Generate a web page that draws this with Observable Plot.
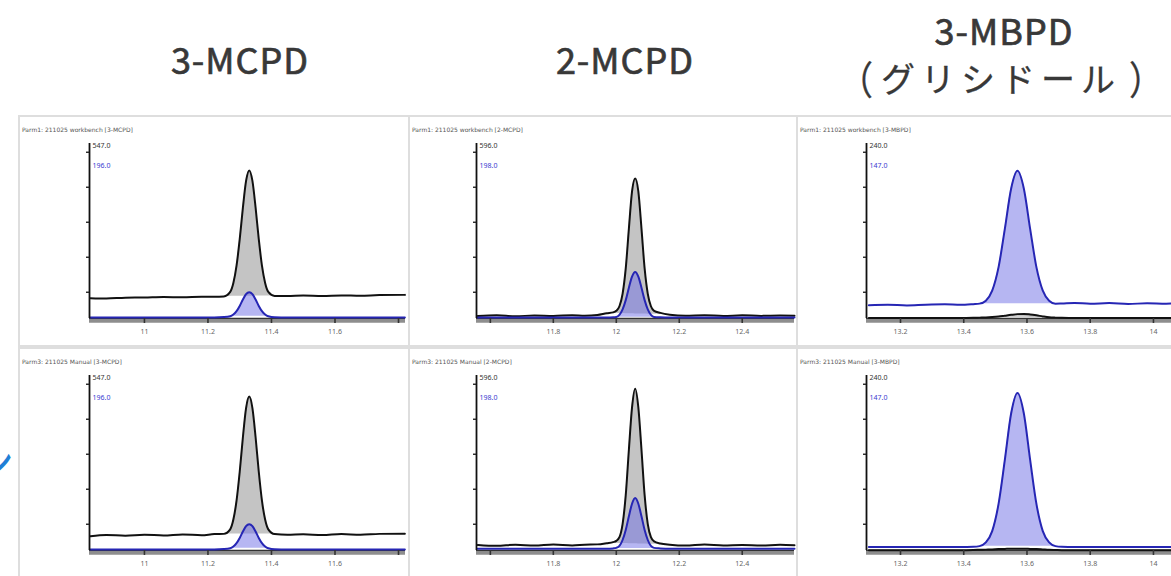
<!DOCTYPE html>
<html><head><meta charset="utf-8">
<script src="https://cdn.jsdelivr.net/npm/d3@7"></script>
<script src="https://cdn.jsdelivr.net/npm/@observablehq/plot@0.6"></script>
<style>
body{margin:0;width:1171px;height:576px;overflow:hidden;background:#fff;position:relative;font-family:"Noto Sans CJK JP","Noto Sans",sans-serif;}
.title{position:absolute;color:#383838;font-size:36px;font-weight:400;-webkit-text-stroke:0.7px #383838;letter-spacing:1px;text-align:center;transform:translateX(-50%);white-space:nowrap;line-height:1}
.panel{position:absolute;box-sizing:border-box;background:#fff;border:2px solid #dedede;}
.hdr{position:absolute;font:6px "DejaVu Sans",sans-serif;color:#555;white-space:nowrap}
.chart{position:absolute}
.edge{position:absolute;color:#1f7fd6;font-size:44px;line-height:1}
</style></head><body>
<script>
// ---- text ----
const columnTitles = ["3-MCPD", "2-MCPD", "3-MBPD"];
const columnSubtitle = ["（", "グリシドール", "）"];
const headerTexts = [
  ["Parm1: 211025 workbench [3-MCPD]", "Parm1: 211025 workbench [2-MCPD]", "Parm1: 211025 workbench [3-MBPD]"],
  ["Parm3: 211025 Manual [3-MCPD]", "Parm3: 211025 Manual [2-MCPD]", "Parm3: 211025 Manual [3-MBPD]"]
];
const blackScaleLabels = ["547.0", "596.0", "240.0"];
const blueScaleLabels = ["196.0", "198.0", "147.0"];

// ---- axes ----
const xDomains = [[10.827, 11.822], [11.556, 12.566], [13.0925, 14.095]];
const xTicks = [[11, 11.2, 11.4, 11.6, 11.8], [11.6, 11.8, 12, 12.2, 12.4], [13.2, 13.4, 13.6, 13.8, 14]];
const xTickLabels = [["11", "11.2", "11.4", "11.6", ""], ["", "11.8", "12", "12.2", "12.4"], ["13.2", "13.4", "13.6", "13.8", "14"]];
const yTicks = [15, 35, 55, 75, 95];
const blackFillRanges = [[11.25, 11.41], [11.97, 12.17], [13.49, 13.69]];
const blueFillRanges = [[11.27, 11.39], [11.99, 12.14], [13.45, 13.69]];

// ---- 3-MCPD (retention time, min; intensity, % of axis) ----
const t1 = [10.83,10.88,10.94,11.0,11.06,11.12,11.18,11.22,11.25,11.27,11.28,11.29,11.30,11.31,11.32,11.33,11.34,11.35,11.36,11.37,11.38,11.39,11.41,11.45,11.5,11.56,11.62,11.68,11.74,11.82];
const black1Workbench = [11.6,11.4,11.9,12.0,12.3,12.1,12.5,12.4,12.6,15.2,20.3,30.2,45.3,63.3,78.6,84.6,78.6,63.3,45.3,30.2,20.3,15.2,12.9,12.8,13.1,12.9,13.2,13.0,13.4,13.5];
const blue1Workbench = [0.6,0.6,0.6,0.6,0.6,0.6,0.6,0.6,0.8,1.3,2.3,4.2,7.2,10.8,13.9,15.0,13.9,10.8,7.2,4.2,2.3,1.3,0.7,0.6,0.6,0.6,0.6,0.6,0.6,0.6];
const black1Manual = [8.2,8.9,8.5,9.0,8.6,9.2,8.7,9.4,9.5,12.1,17.7,28.5,45.0,64.7,81.4,88.0,81.4,64.7,45.0,28.5,17.7,12.1,9.4,9.0,9.3,8.8,9.4,9.0,9.5,9.6];
const blue1Manual = [0.6,0.6,0.6,0.6,0.6,0.6,0.6,0.6,0.8,1.3,2.3,4.2,7.2,10.8,13.9,15.0,13.9,10.8,7.2,4.2,2.3,1.3,0.7,0.6,0.6,0.6,0.6,0.6,0.6,0.6];

// ---- 2-MCPD ----
const t2 = [11.56,11.62,11.68,11.74,11.8,11.86,11.9,11.94,11.97,11.99,12.0,12.01,12.02,12.03,12.04,12.05,12.06,12.07,12.08,12.09,12.10,12.11,12.12,12.14,12.17,12.22,12.28,12.34,12.4,12.46,12.52,12.566];
const black2Workbench = [1.4,1.8,1.3,1.7,1.5,1.9,1.6,2.0,3.0,3.5,4.4,7.0,14.1,28.6,51.4,72.6,80.0,72.6,51.4,28.6,14.1,7.0,4.4,3.2,2.2,1.6,1.9,1.4,1.8,1.5,1.7,1.6];
const blue2Workbench = [0.6,0.6,0.6,0.6,0.6,0.6,0.6,0.6,0.6,0.7,0.9,2.1,5.2,10.5,17.6,23.9,26.6,23.9,17.6,10.5,5.2,2.1,0.9,0.7,0.6,0.6,0.6,0.6,0.6,0.6,0.6,0.6];
const black2Manual = [3.2,2.7,3.3,2.8,3.4,2.9,3.3,3.5,4.2,4.8,5.5,7.6,15.1,31.6,57.6,81.8,92.5,81.8,57.6,31.6,15.1,7.6,5.2,4.0,3.3,2.8,3.4,2.9,3.2,2.8,3.3,3.0];
const blue2Manual = [1.0,1.0,1.0,1.0,1.0,1.0,1.0,1.0,1.0,1.2,1.5,2.6,6.0,11.7,19.6,26.7,30.0,26.7,19.6,11.7,6.0,2.6,1.5,1.2,1.0,1.0,1.0,1.0,1.0,1.0,1.0,1.0];

// ---- 3-MBPD ----
const t3 = [13.1,13.16,13.22,13.28,13.34,13.39,13.43,13.45,13.47,13.49,13.51,13.53,13.55,13.57,13.59,13.61,13.63,13.65,13.67,13.69,13.71,13.75,13.8,13.86,13.92,13.98,14.04,14.095];
const black3Workbench = [0.3,0.3,0.3,0.3,0.3,0.3,0.4,0.5,0.6,0.8,1.1,1.6,2.1,2.5,2.6,2.3,1.8,1.2,0.7,0.5,0.4,0.3,0.3,0.3,0.3,0.3,0.3,0.3];
const blue3Workbench = [7.6,7.8,7.5,7.9,8.1,7.8,8.2,8.5,10.2,15.9,29.2,51.2,74.3,84.4,74.3,51.2,29.2,15.9,10.2,8.5,8.6,8.9,8.4,8.8,8.3,8.7,8.5,8.8];
const black3Manual = [0.2,0.2,0.2,0.2,0.2,0.2,0.3,0.4,0.5,0.6,0.8,0.9,1.0,1.0,1.0,0.9,0.8,0.6,0.4,0.3,0.2,0.2,0.2,0.2,0.2,0.2,0.2,0.2];
const blue3Manual = [2.0,2.0,2.0,2.0,2.0,2.0,2.1,2.5,4.6,11.1,26.5,51.8,78.4,90.0,78.4,51.8,26.5,11.1,4.6,2.5,2.1,2.0,2.0,2.0,2.0,2.0,2.0,2.0];

const times = [t1, t2, t3];
const blackSeries = [[black1Workbench, black2Workbench, black3Workbench], [black1Manual, black2Manual, black3Manual]];
const blueSeries = [[blue1Workbench, blue2Workbench, blue3Workbench], [blue1Manual, blue2Manual, blue3Manual]];

// ---- layout ----
const colLeft = [20, 410, 798];
const colWidth = [388, 387, 388];
const colMarginLeft = [69, 66, 68];
const rowTop = [117, 349];
const panelH = 228;

function el(cls, css, txt) {
  const d = document.createElement("div");
  d.className = cls; Object.assign(d.style, css);
  if (txt != null) d.textContent = txt;
  document.body.appendChild(d); return d;
}

el("title", {left: "240px", top: "40px"}, columnTitles[0]);
el("title", {left: "625px", top: "40px"}, columnTitles[1]);
el("title", {left: "1004px", top: "11px"}, columnTitles[2]);
const sub = el("title", {left: "1001px", top: "61px", fontSize: "34px", letterSpacing: "0", webkitTextStroke: "0.3px #383838"});
columnSubtitle.forEach((s, i) => {
  const sp = document.createElement("span");
  sp.textContent = s;
  if (i !== 1) { sp.style.display = "inline-block"; sp.style.width = "42px"; sp.style.textAlign = i === 0 ? "left" : "right"; sp.style.transform = "scaleY(1.15)"; }
  else { sp.style.letterSpacing = "6px"; }
  sub.appendChild(sp);
});
el("edge", {left: "-30px", top: "438px"}, "ン");

function integrate(rows, key, range) {
  const sel = rows.filter(r => r.t >= range[0] && r.t <= range[1]);
  const a = sel[0], z = sel[sel.length - 1];
  return sel.map(r => ({t: r.t, v: r[key], base: a[key] + (z[key] - a[key]) * (r.t - a.t) / (z.t - a.t)}));
}

for (let r = 0; r < 2; r++) {
  for (let c = 0; c < 3; c++) {
    const L = colLeft[c], T = rowTop[r], W = colWidth[c];
    el("panel", {left: (L - 2) + "px", top: (T - 2) + "px", width: (W + 4) + "px", height: (panelH + 4) + "px"});
    const rows = times[c].map((t, i) => ({t, k: blackSeries[r][c][i], b: blueSeries[r][c][i]}));
    const kFill = integrate(rows, "k", blackFillRanges[c]);
    const bFill = integrate(rows, "b", blueFillRanges[c]);
    const dom = xDomains[c], ticks = xTicks[c], labels = xTickLabels[c];
    const svg = Plot.plot({
      width: W, height: panelH,
      marginLeft: colMarginLeft[c], marginRight: 3, marginTop: 26, marginBottom: 27,
      x: {domain: dom, label: null}, y: {domain: [0, 100], label: null},
      style: {background: "transparent", overflow: "visible"},
      marks: [
        Plot.areaY(kFill, {x: "t", y1: "base", y2: "v", fill: "#c4c4c4", curve: "monotone-x"}),
        Plot.ruleY([0], {stroke: "#8e8e8e", strokeWidth: 3.5, dy: 2.5}),
        Plot.ruleY([0], {stroke: "#333", strokeWidth: 1.6}),
        Plot.lineY(rows, {x: "t", y: "k", stroke: "#111", strokeWidth: 2, curve: "monotone-x"}),
        Plot.areaY(bFill, {x: "t", y1: "base", y2: "v", fill: "rgb(110,110,230)", fillOpacity: 0.5, curve: "monotone-x"}),
        Plot.lineY(rows, {x: "t", y: "b", stroke: "#2626b4", strokeWidth: 2, curve: "monotone-x"}),
        Plot.ruleX([dom[0]], {y1: 0, y2: 100, stroke: "#111", strokeWidth: 1.8}),
        Plot.axisY({ticks: yTicks, tickSize: 3, tickFormat: () => "", label: null, stroke: "#222", strokeWidth: 1.4}),
        Plot.axisX({ticks, tickSize: 5, tickPadding: 6, label: null, stroke: "#333", strokeWidth: 1.6, fill: "#666", fontSize: 7,
          tickFormat: d => labels[ticks.indexOf(d)]}),
        Plot.text([blackScaleLabels[c]], {frameAnchor: "top-left", dx: 3, dy: 2, lineAnchor: "middle", textAnchor: "start", fontSize: 7, fill: "#333", text: d => d}),
        Plot.text([blueScaleLabels[c]], {frameAnchor: "top-left", dx: 3, dy: 22, lineAnchor: "middle", textAnchor: "start", fontSize: 7, fill: "#3a3ad0", text: d => d})
      ]
    });
    svg.classList.add("chart");
    svg.style.left = L + "px"; svg.style.top = T + "px";
    document.body.appendChild(svg);
    el("hdr", {left: (L + 2) + "px", top: (T + 9) + "px"}, headerTexts[r][c]);
  }
}
</script>
</body></html>
